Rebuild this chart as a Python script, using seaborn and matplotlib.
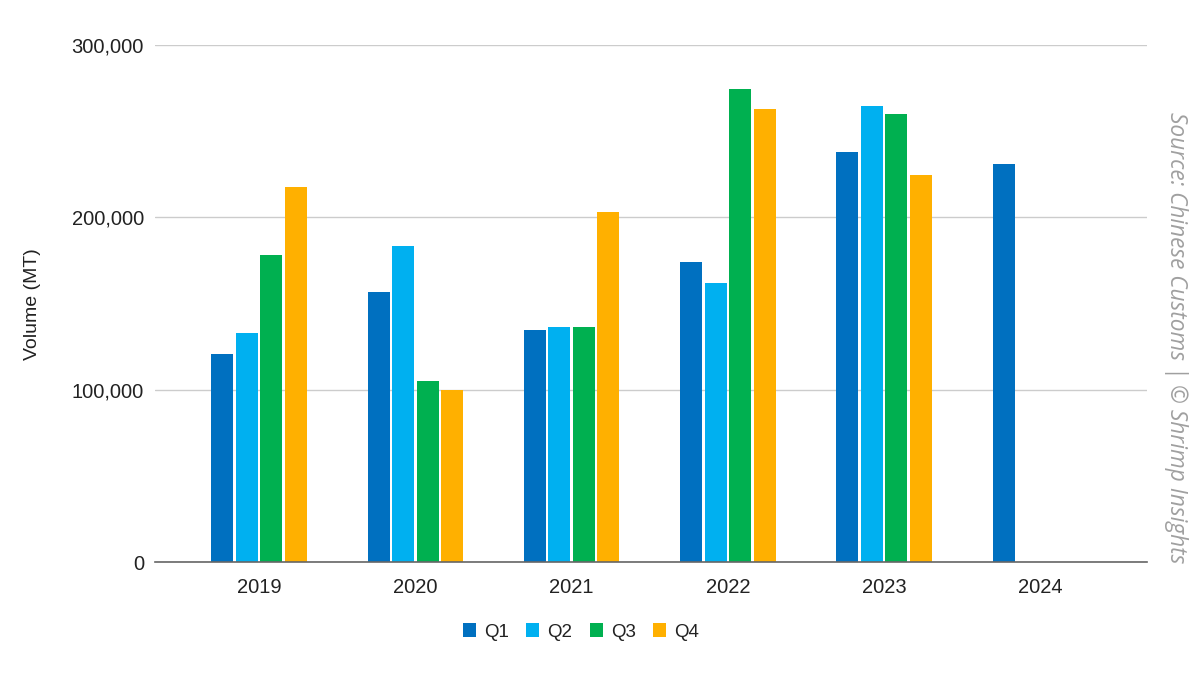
import matplotlib
matplotlib.use("Agg")
import matplotlib.pyplot as plt
import seaborn as sns
import pandas as pd
from matplotlib.patches import Patch
from matplotlib.ticker import FuncFormatter

years = ["2019", "2020", "2021", "2022", "2023", "2024"]
quarters = ["Q1", "Q2", "Q3", "Q4"]
q1 = [120900, 156500, 134800, 173900, 237700, 231200]
q2 = [133200, 183200, 136400, 162000, 264800, None]
q3 = [178000, 105200, 136400, 274700, 260200, None]
q4 = [217400, 100000, 203000, 263000, 224800, None]
colors = ["#0070C0", "#00B0F0", "#00B050", "#FFB000"]

rows = []
for q, vals in zip(quarters, [q1, q2, q3, q4]):
    for y, v in zip(years, vals):
        if v is not None:
            rows.append({"Year": y, "Quarter": q, "Volume": v})
df = pd.DataFrame(rows)

sns.set_theme(style="white")
plt.rcParams["font.family"] = ["Liberation Sans", "DejaVu Sans"]

fig = plt.figure(figsize=(12, 6.75), dpi=100)
ax = fig.add_axes([155 / 1200, 1 - 562.3 / 675, (1147 - 155) / 1200, (562.3 - 45) / 675])

sns.barplot(data=df, x="Year", y="Volume", hue="Quarter", order=years,
            hue_order=quarters, palette=colors, width=0.627, gap=0.1, ax=ax,
            linewidth=0, saturation=1, legend=False)

ax.set_xlim(-0.667, 5.683)
ax.set_ylim(0, 300000)
ax.set_yticks([0, 100000, 200000, 300000])
ax.yaxis.set_major_formatter(FuncFormatter(lambda v, p: f"{int(v):,}"))
ax.grid(axis="y", color="#cccccc", linewidth=1)
ax.set_axisbelow(True)
for s in ["top", "right", "left"]:
    ax.spines[s].set_visible(False)
ax.spines["bottom"].set_color("#666666")
ax.spines["bottom"].set_linewidth(1.2)
ax.tick_params(axis="both", length=0, labelsize=14.5, colors="#222222")
ax.tick_params(axis="y", pad=8)
ax.tick_params(axis="x", pad=11)
ax.set_xlabel("")
ax.set_ylabel("Volume (MT)", fontsize=14, color="#222222", labelpad=22)

handles = [Patch(facecolor=c, edgecolor="none") for c in colors]
fig.legend(handles, quarters, loc="center", bbox_to_anchor=(581 / 1200, 1 - 632 / 675),
           ncol=4, frameon=False, fontsize=13.5, handlelength=0.7, handleheight=0.7,
           handletextpad=0.45, columnspacing=0.9, labelcolor="#222222")

fig.text(1176 / 1200, 1 - 338 / 675, "Source: Chinese Customs | © Shrimp Insights",
         rotation=270, ha="center", va="center", fontsize=16.3, style="italic",
         color="#a0a0a0", family=["Open Sans", "DejaVu Sans"])

fig.savefig("out.png", dpi=100)
